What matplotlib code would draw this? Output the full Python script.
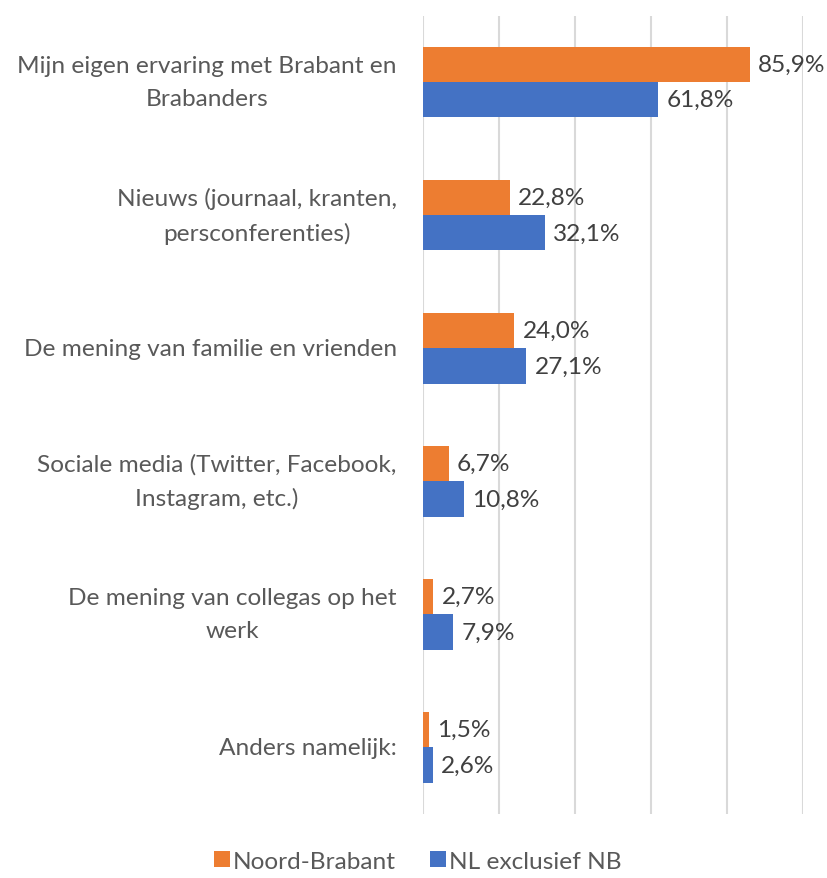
import matplotlib.pyplot as plt
import numpy as np

categories = [
    "Mijn eigen ervaring met Brabant en\nBrabanders",
    "Nieuws (journaal, kranten,\npersconferenties)",
    "De mening van familie en vrienden",
    "Sociale media (Twitter, Facebook,\nInstagram, etc.)",
    "De mening van collegas op het\nwerk",
    "Anders namelijk:",
]
noord_brabant = [85.9, 22.8, 24.0, 6.7, 2.7, 1.5]
nl_excl_nb = [61.8, 32.1, 27.1, 10.8, 7.9, 2.6]
series_names = ["Noord-Brabant", "NL exclusief NB"]

plt.rcParams['font.family'] = ['Lato', 'DejaVu Sans']
label_color = '#595959'
value_color = '#404040'
orange = '#ED7D31'
blue = '#4472C4'
fs = 17.6

fig = plt.figure(figsize=(8.28, 8.79), dpi=100)
ax = fig.add_axes([0.511, 0.073, 0.459, 0.908])

y = np.arange(len(categories))
h = 0.265
bars_nb = ax.barh(y - h / 2, noord_brabant, height=h, color=orange, label=series_names[0], zorder=3)
bars_nl = ax.barh(y + h / 2, nl_excl_nb, height=h, color=blue, label=series_names[1], zorder=3)

for bars, vals in [(bars_nb, noord_brabant), (bars_nl, nl_excl_nb)]:
    for b, v in zip(bars, vals):
        ax.annotate(f"{v:.1f}%".replace('.', ','),
                    (b.get_width(), b.get_y() + b.get_height() / 2),
                    xytext=(6, 0), textcoords='offset points',
                    va='center', ha='left', fontsize=fs, color=value_color)

ax.set_xlim(0, 100)
ax.set_ylim(len(categories) - 0.5, -0.5)
ax.set_xticks([0, 20, 40, 60, 80, 100])
ax.set_xticklabels([])
ax.tick_params(axis='x', length=0)
ax.tick_params(axis='y', length=0, pad=19)
ax.set_yticks(y)
ax.set_yticklabels(categories, fontsize=fs, color=label_color, linespacing=1.7)
for lbl in ax.get_yticklabels():
    lbl.set_va('center')
    lbl.set_multialignment('center')
ax.grid(axis='x', color='#D9D9D9', linewidth=1.5, zorder=0)
for s in ax.spines.values():
    s.set_visible(False)

fig.legend(handles=[bars_nb, bars_nl], labels=series_names, loc='center',
           bbox_to_anchor=(0.505, 0.019), ncol=2, frameon=False, fontsize=fs,
           handlelength=0.62, handleheight=0.62, handletextpad=0.15, columnspacing=1.4,
           labelcolor=label_color)

fig.savefig('out.png', dpi=100)
